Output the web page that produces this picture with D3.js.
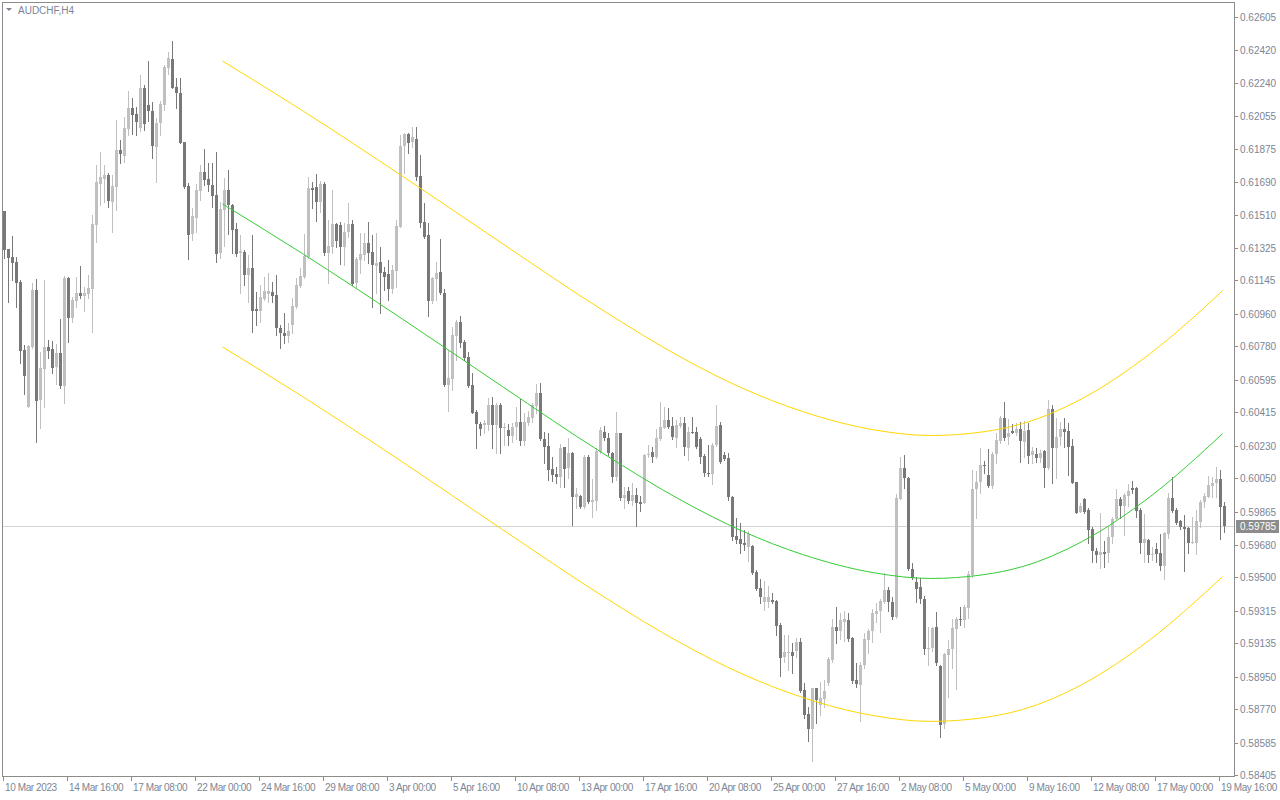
<!DOCTYPE html>
<html>
<head>
<meta charset="utf-8">
<script src="https://cdn.jsdelivr.net/npm/d3@7"></script>
<style>
html,body{margin:0;padding:0;background:#fff;}
svg{display:block;}
text{font-family:"Liberation Sans",Arial,sans-serif;font-size:10px;fill:#7c8594;}
text.xl{letter-spacing:-0.4px;}
</style>
</head>
<body>
<svg id="chart" width="1280" height="800"></svg>
<script>
const symbolTitle = "AUDCHF,H4";

const open = [
.61530,.61321,.61277,.61247,.61137,.60760,.60446,.60778,.61092,.60485,
.60656,.60777,.60767,.60664,.60745,.60562,.61161,.60939,.61033,.61078,
.61061,.61072,.61100,.61453,.61681,.61707,.61729,.61582,.61665,.61868,
.61837,.61984,.62101,.62068,.61992,.62212,.62117,.62084,.61887,.62018,
.62117,.62321,.62372,.62217,.62184,.61912,.61668,.61402,.61493,.61643,
.61746,.61707,.61674,.61619,.61296,.61537,.61646,.61563,.61430,.61297,
.61303,.61176,.61214,.60987,.60976,.61043,.61068,.61083,.61065,.60884,
.60856,.60839,.60898,.61000,.61116,.61166,.61277,.61656,.61661,.61582,
.61680,.61299,.61332,.61456,.61451,.61332,.61414,.61458,.61129,.61258,
.61286,.61351,.61303,.61227,.61248,.61192,.61181,.61096,.61199,.61443,
.61890,.61957,.61912,.61931,.61724,.61469,.61395,.61033,.61155,.61192,
.61078,.60566,.60601,.60837,.60915,.60804,.60721,.60566,.60416,.60352,
.60342,.60342,.60453,.60342,.60453,.60326,.60317,.60285,.60331,.60361,
.60258,.60357,.60385,.60449,.60522,.60265,.60228,.60102,.60072,.60054,
.60220,.60104,.60187,.59947,.59951,.59892,.60169,.59920,.59925,.60196,
.60307,.60274,.60187,.60054,.60298,.59942,.59979,.59923,.59955,.59917,
.59914,.60176,.60195,.60169,.60267,.60330,.60372,.60339,.60270,.60341,
.60357,.60219,.60305,.60305,.60265,.60173,.60080,.60073,.60233,.60346,
.60176,.60160,.59947,.59729,.59715,.59691,.59670,.59674,.59530,.59441,
.59363,.59363,.59375,.59371,.59236,.59057,.59079,.59086,.59092,.59142,
.58876,.58743,.58660,.58885,.58793,.58824,.58913,.59042,.59223,.59205,
.59255,.59264,.59162,.58931,.58906,.59013,.59153,.59201,.59297,.59312,
.59363,.59430,.59363,.59282,.59934,.60104,.60051,.59546,.59476,.59449,
.59382,.59101,.59110,.59225,.59011,.58686,.59072,.59101,.59216,.59269,
.59264,.59332,.59513,.59988,.60027,.60121,.60067,.60006,.60182,.60258,
.60385,.60280,.60313,.60302,.60324,.60252,.60317,.60178,.60184,.60161,
.60200,.60108,.60433,.60219,.60276,.60322,.60311,.60228,.60029,.59862,
.59934,.59873,.59768,.59648,.59624,.59641,.59635,.59726,.59821,.59932,
.59895,.59953,.59995,.59995,.59873,.59692,.59707,.59626,.59655,.59635,
.59563,.59740,.59938,.59873,.59810,.59781,.59775,.59692,.59692,.59809,
.59918,.59947,.60006,.60025,.60045,.59895
];

const high = [
.61530,.61321,.61392,.61273,.61148,.60788,.60788,.61129,.61152,.60751,
.61148,.60815,.60812,.60791,.60932,.61172,.61165,.61055,.61163,.61227,
.61107,.61176,.61508,.61785,.61857,.61785,.61739,.61729,.62034,.61924,
.62053,.62195,.62154,.62108,.62284,.62228,.62361,.62136,.62044,.62140,
.62339,.62413,.62472,.62269,.62269,.61914,.61683,.61545,.61678,.61785,
.61872,.61794,.61794,.61859,.61582,.61715,.61757,.61569,.61462,.61397,
.61314,.61286,.61397,.61079,.61120,.61166,.61185,.61139,.61176,.60898,
.60963,.60908,.61046,.61161,.61212,.61400,.61720,.61693,.61735,.61694,
.61693,.61480,.61646,.61462,.61469,.61462,.61573,.61480,.61277,.61406,
.61406,.61469,.61397,.61410,.61332,.61222,.61258,.61233,.61480,.61951,
.61960,.61964,.61997,.61997,.61840,.61573,.61462,.61166,.61246,.61377,
.61096,.60760,.60889,.60926,.60948,.60815,.60751,.60631,.60428,.60363,
.60372,.60492,.60497,.60464,.60464,.60354,.60350,.60354,.60446,.60487,
.60409,.60422,.60464,.60570,.60575,.60307,.60298,.60169,.60113,.60239,
.60224,.60270,.60197,.59993,.59956,.60178,.60178,.60043,.60215,.60331,
.60339,.60298,.60197,.60418,.60302,.60003,.60003,.60025,.59997,.59951,
.60182,.60233,.60224,.60320,.60470,.60446,.60437,.60387,.60372,.60387,
.60390,.60335,.60390,.60335,.60280,.60184,.60233,.60243,.60455,.60363,
.60197,.60187,.59951,.59827,.59803,.59762,.59755,.59678,.59541,.59493,
.59482,.59452,.59416,.59375,.59245,.59181,.59181,.59135,.59162,.59162,
.58913,.58784,.58889,.58889,.58922,.58931,.59061,.59268,.59334,.59304,
.59315,.59304,.59171,.59024,.59033,.59190,.59212,.59323,.59356,.59378,
.59522,.59448,.59393,.59962,.60169,.60178,.60054,.59578,.59504,.59495,
.59395,.59227,.59227,.59310,.59014,.59083,.59153,.59267,.59278,.59338,
.59347,.59537,.60095,.60090,.60217,.60147,.60210,.60197,.60298,.60394,
.60472,.60376,.60350,.60353,.60363,.60366,.60357,.60224,.60215,.60206,
.60206,.60483,.60455,.60381,.60363,.60381,.60353,.60265,.60030,.59914,
.59938,.59886,.59781,.59661,.59855,.59702,.59781,.59832,.59988,.59947,
.59969,.60015,.60032,.60003,.59882,.59851,.59711,.59670,.59689,.59740,
.59753,.59966,.60058,.59882,.59820,.59846,.59781,.59836,.59873,.59929,
.59966,.60064,.60054,.60110,.60095,.59919
];

const low = [
.61268,.61028,.61148,.61000,.60686,.60516,.60442,.60769,.60248,.60330,
.60442,.60717,.60631,.60572,.60548,.60468,.60806,.60917,.61000,.61046,
.60976,.61046,.60862,.61360,.61563,.61582,.61554,.61416,.61536,.61794,
.61800,.61951,.61955,.61951,.61975,.61981,.62029,.61826,.61693,.61951,
.62090,.62287,.62210,.62103,.61905,.61656,.61264,.61369,.61416,.61591,
.61674,.61641,.61550,.61249,.61268,.61338,.61403,.61296,.61283,.61074,
.61120,.61028,.60862,.60898,.60917,.61037,.61028,.61028,.60843,.60773,
.60797,.60802,.60852,.60991,.61111,.61157,.61268,.61545,.61477,.61526,
.61286,.61129,.61296,.61332,.61236,.61231,.61388,.61120,.61111,.61185,
.61258,.61240,.61000,.61074,.60963,.61092,.61037,.61074,.61111,.61443,
.61739,.61850,.61887,.61702,.61440,.61379,.60950,.61022,.61037,.61070,
.60560,.60424,.60538,.60705,.60778,.60705,.60557,.60409,.60215,.60289,
.60298,.60316,.60215,.60187,.60187,.60234,.60234,.60252,.60265,.60234,
.60234,.60344,.60362,.60409,.60261,.60132,.60040,.60036,.60021,.60003,
.60003,.60049,.59790,.59882,.59882,.59882,.59910,.59836,.59873,.60187,
.60261,.60178,.60030,.60040,.59929,.59883,.59910,.59901,.59785,.59870,
.59910,.60169,.60141,.60160,.60261,.60326,.60326,.60265,.60221,.60335,
.60178,.60150,.60298,.60215,.60132,.60062,.60062,.60017,.60228,.60136,
.60150,.59929,.59707,.59689,.59633,.59652,.59593,.59519,.59430,.59356,
.59319,.59337,.59356,.59181,.58955,.59033,.58987,.58968,.59061,.58867,
.58719,.58593,.58484,.58691,.58737,.58784,.58904,.59033,.59135,.59157,
.59150,.59147,.58913,.58894,.58706,.58996,.59079,.59144,.59255,.59199,
.59356,.59315,.59268,.59273,.59932,.59997,.59541,.59489,.59365,.59356,
.59075,.59014,.59094,.59014,.58617,.58664,.58839,.58996,.58880,.59236,
.59227,.59273,.59504,.59827,.59969,.60076,.59999,.59993,.60132,.60243,
.60261,.60237,.60298,.60289,.60141,.60169,.60132,.60132,.60141,.60141,
.60003,.60099,.60025,.60049,.60233,.60224,.60067,.60021,.59855,.59860,
.59858,.59689,.59587,.59587,.59550,.59559,.59587,.59689,.59818,.59827,
.59735,.59895,.59966,.59836,.59637,.59587,.59587,.59596,.59587,.59541,
.59489,.59716,.59864,.59796,.59770,.59538,.59633,.59689,.59630,.59781,
.59892,.59944,.59947,.59944,.59711,.59753
];

const close = [
.61314,.61272,.61242,.61133,.60756,.60618,.60782,.61092,.60479,.60660,
.60777,.60756,.60662,.60745,.60562,.61161,.60939,.61037,.61078,.61061,
.61078,.61102,.61458,.61691,.61719,.61731,.61587,.61669,.61868,.61844,
.61990,.62101,.62064,.62023,.62212,.62012,.62086,.61890,.62018,.62121,
.62328,.62378,.62213,.62184,.61909,.61665,.61397,.61502,.61646,.61746,
.61704,.61674,.61615,.61292,.61541,.61646,.61563,.61425,.61292,.61308,
.61176,.61216,.60976,.60976,.61054,.61087,.61087,.61061,.60884,.60852,
.60838,.60867,.61004,.61120,.61172,.61283,.61656,.61648,.61582,.61680,
.61299,.61336,.61456,.61366,.61332,.61414,.61458,.61126,.61264,.61290,
.61351,.61299,.61233,.61240,.61188,.61163,.61096,.61201,.61447,.61890,
.61957,.61909,.61938,.61720,.61465,.61388,.61033,.61159,.61188,.61074,
.60566,.60605,.60843,.60915,.60801,.60717,.60562,.60413,.60348,.60320,
.60357,.60453,.60342,.60453,.60326,.60331,.60285,.60335,.60361,.60258,
.60361,.60389,.60455,.60522,.60265,.60224,.60095,.60069,.60054,.60217,
.60102,.60187,.59947,.59962,.59892,.60169,.59920,.59929,.60200,.60317,
.60270,.60187,.60058,.60298,.59938,.59955,.59923,.59955,.59914,.59908,
.60178,.60182,.60169,.60270,.60331,.60372,.60335,.60276,.60342,.60357,
.60221,.60305,.60302,.60224,.60169,.60076,.60076,.60233,.60339,.60139,
.60158,.59947,.59726,.59707,.59685,.59679,.59740,.59526,.59437,.59389,
.59393,.59393,.59365,.59232,.59055,.59088,.59086,.59064,.59142,.58870,
.58737,.58660,.58885,.58820,.58830,.58872,.59046,.59223,.59205,.59264,
.59268,.59160,.58926,.58909,.59013,.59157,.59205,.59301,.59315,.59369,
.59430,.59363,.59282,.59940,.60104,.60049,.59546,.59498,.59436,.59378,
.59105,.59110,.59221,.59027,.58682,.59075,.59105,.59221,.59267,.59264,
.59338,.59517,.59990,.60030,.60123,.60117,.60006,.60184,.60261,.60385,
.60274,.60302,.60302,.60324,.60256,.60313,.60174,.60202,.60161,.60191,
.60108,.60433,.60219,.60276,.60320,.60307,.60224,.60025,.59858,.59897,
.59864,.59762,.59648,.59624,.59641,.59630,.59726,.59823,.59932,.59895,
.59956,.59979,.59984,.59870,.59692,.59713,.59626,.59631,.59631,.59563,
.59744,.59938,.59868,.59803,.59777,.59770,.59692,.59696,.59812,.59918,
.59951,.60010,.60025,.60043,.59892,.59785
];

// Regression channel: middle line read at bar indices, and its half-width
const chanBars = [55, 75, 100, 125, 150, 170, 185, 200, 218, 232, 245, 255, 270, 287, 305];
const chanMid  = [0.61569, 0.61294, 0.60931, 0.60557, 0.60189, 0.59923, 0.59756, 0.59627, 0.59525, 0.59494, 0.59514, 0.59560, 0.59700, 0.59949, 0.60296];
const chanDev  = 0.00792;

const lastPrice = 0.59785;

const yTicks = [0.62605,0.62420,0.62240,0.62055,0.61875,0.61690,0.61510,0.61325,0.61145,0.60960,0.60780,0.60595,
                0.60415,0.60230,0.60050,0.59865,0.59680,0.59500,0.59315,0.59135,0.58950,0.58770,0.58585,0.58405];

const xTickBars = [0,16,32,48,64,80,96,112,128,144,160,176,192,208,224,240,256,272,288,304];
const xTickLabels = ["10 Mar 2023","14 Mar 16:00","17 Mar 08:00","22 Mar 00:00","24 Mar 16:00","29 Mar 08:00",
  "3 Apr 00:00","5 Apr 16:00","10 Apr 08:00","13 Apr 00:00","17 Apr 16:00","20 Apr 08:00","25 Apr 00:00",
  "27 Apr 16:00","2 May 08:00","5 May 00:00","9 May 16:00","12 May 08:00","17 May 00:00","19 May 16:00"];

// ---------- drawing ----------
const svg = d3.select("#chart");
const plot = {left: 2, top: 2, right: 1234, bottom: 776};
const n = Math.min(open.length, high.length, low.length, close.length);

const x = d3.scaleLinear().domain([0, 305]).range([4, 1224]);
const y = d3.scaleLinear().domain([0.58405, 0.62605]).range([775, 17]);

const upCol = "#c0c0c0", dnCol = "#787878";

svg.append("rect").attr("x",0).attr("y",0).attr("width",1280).attr("height",800).attr("fill","#fff");

// bid line
svg.append("line")
  .attr("x1", plot.left).attr("x2", plot.right)
  .attr("y1", Math.round(y(lastPrice)) + 0.5).attr("y2", Math.round(y(lastPrice)) + 0.5)
  .attr("stroke", "#d4d4d4").attr("stroke-width", 1);

// candles
const g = svg.append("g").attr("shape-rendering","crispEdges");
const bars = d3.range(n);
g.selectAll("line.wick").data(bars).join("line")
  .attr("class","wick")
  .attr("x1", i => Math.round(x(i)) + 0.5).attr("x2", i => Math.round(x(i)) + 0.5)
  .attr("y1", i => Math.round(y(high[i]))).attr("y2", i => Math.round(y(low[i])) + 1)
  .attr("stroke", i => close[i] >= open[i] ? upCol : dnCol).attr("stroke-width",1);

g.selectAll("rect.body").data(bars).join("rect")
  .attr("class","body")
  .attr("x", i => Math.round(x(i)) - 1)
  .attr("width", 3)
  .attr("y", i => Math.round(y(Math.max(open[i], close[i]))))
  .attr("height", i => Math.max(1, Math.round(y(Math.min(open[i], close[i]))) - Math.round(y(Math.max(open[i], close[i])))))
  .attr("fill", i => close[i] >= open[i] ? upCol : dnCol);

// channel
const chanPts = chanBars.map((b, k) => [b, chanMid[k]]);
const lineGen = off => d3.line().curve(d3.curveMonotoneX)
  .x(d => x(d[0]) - 1.5).y(d => y(d[1] + off));
svg.append("path").datum(chanPts).attr("d", lineGen(chanDev)).attr("fill","none").attr("stroke","#ffd700").attr("stroke-width",1);
svg.append("path").datum(chanPts).attr("d", lineGen(-chanDev)).attr("fill","none").attr("stroke","#ffd700").attr("stroke-width",1);
svg.append("path").datum(chanPts).attr("d", lineGen(0)).attr("fill","none").attr("stroke","#32cd32").attr("stroke-width",1);

// frame
const frame = svg.append("g").attr("shape-rendering","crispEdges");
frame.append("rect")
  .attr("x", plot.left + 0.5).attr("y", plot.top + 0.5)
  .attr("width", plot.right - plot.left).attr("height", plot.bottom - plot.top)
  .attr("fill","none").attr("stroke","#8c8c8c");

// y axis ticks and labels
const yAxis = svg.append("g");
yTicks.forEach(v => {
  const yy = Math.round(y(v)) + 0.5;
  yAxis.append("line").attr("x1", plot.right).attr("x2", plot.right + 4)
    .attr("y1", yy).attr("y2", yy).attr("stroke","#8c8c8c").attr("shape-rendering","crispEdges");
  yAxis.append("text").attr("x", plot.right + 6).attr("y", yy).attr("dy","0.35em")
    .text(v.toFixed(5));
});

// last price box
const ly = Math.round(y(lastPrice));
svg.append("rect").attr("x", plot.right + 2).attr("y", ly - 6).attr("width", 43).attr("height", 13)
  .attr("fill","#8c8c8c").attr("shape-rendering","crispEdges");
svg.append("text").attr("x", plot.right + 6).attr("y", ly + 0.5).attr("dy","0.35em")
  .style("fill","#ffffff").text(lastPrice.toFixed(5));

// x axis ticks and labels
const xAxis = svg.append("g");
xTickBars.forEach((b, k) => {
  const xx = Math.round(x(b)) - 1 + 0.5;
  xAxis.append("line").attr("x1", xx).attr("x2", xx).attr("y1", plot.bottom).attr("y2", plot.bottom + 5)
    .attr("stroke","#8c8c8c").attr("shape-rendering","crispEdges");
  xAxis.append("text").attr("class","xl").attr("x", xx + 1.5).attr("y", plot.bottom + 15).text(xTickLabels[k]);
});

// title
svg.append("path").attr("d","M6,8 L12,8 L9,11 Z").attr("fill","#7c8594");
svg.append("text").attr("x", 18).attr("y", 14).text(symbolTitle);
</script>
</body>
</html>
